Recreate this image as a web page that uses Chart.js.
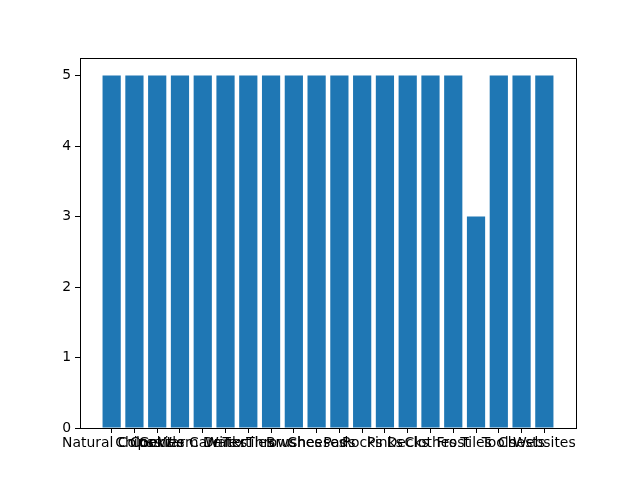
<!DOCTYPE html>
<html>
<head>
<meta charset="utf-8">
<script src="https://cdn.jsdelivr.net/npm/chart.js@4/dist/chart.umd.min.js"></script>
<style>
  html, body { margin: 0; padding: 0; background: #fff; }
  #wrap { width: 640px; height: 480px; }
</style>
</head>
<body>
<div id="wrap"><canvas id="chart" width="640" height="480"></canvas></div>
<script>
/* data (labels overlap, best guesses) */
const categories = [
    "Natural Colors", "Chips", "Cookies", "Gentle Care", "Warm Drinks",
    "Water", "Textiles", "Throws", "Brushes", "Cheeses",
    "Pads", "Rocks", "Pinks", "Decks", "Clothes",
    "Frost", "Tiles", "Tools", "Chests", "Websites"
];
const values = [5, 5, 5, 5, 5, 5, 5, 5, 5, 5, 5, 5, 5, 5, 5, 5, 3, 5, 5, 5];
const yTicks = [0, 1, 2, 3, 4, 5];

const font = { family: "DejaVu Sans", size: 13.9 };

new Chart(document.getElementById("chart"), {
    type: "bar",
    data: {
        datasets: [{
            data: values.map((v, i) => ({ x: i, y: v })),
            backgroundColor: "#1f77b4",
            borderWidth: 0,
            categoryPercentage: 1,
            barPercentage: 0.8
        }]
    },
    options: {
        responsive: false,
        animation: false,
        layout: { padding: { top: 58, right: 64, left: 0, bottom: 0 } },
        plugins: { legend: { display: false }, tooltip: { enabled: false } },
        scales: {
            x: {
                type: "linear",
                offset: false,
                min: -1.39,
                max: 20.39,
                afterBuildTicks: axis => {
                    axis.ticks = categories.map((c, i) => ({ value: i }));
                },
                afterFit: axis => { axis.height = 52; },
                ticks: {
                    autoSkip: false,
                    maxRotation: 0,
                    minRotation: 0,
                    color: "#000",
                    font,
                    padding: 2,
                    callback: v => categories[v]
                },
                grid: { offset: false, drawOnChartArea: false, tickLength: 5, tickColor: "#000", tickWidth: 1 },
                border: { color: "#000", width: 1 }
            },
            y: {
                min: 0,
                max: 5.25,
                afterBuildTicks: axis => {
                    axis.ticks = yTicks.map(v => ({ value: v }));
                },
                afterFit: axis => { axis.width = 80; },
                ticks: { color: "#000", font, padding: 4 },
                grid: { drawOnChartArea: false, tickLength: 5, tickColor: "#000", tickWidth: 1 },
                border: { color: "#000", width: 1 }
            }
        }
    },
    plugins: [{
        id: "frame",
        afterDraw: chart => {
            const { ctx, chartArea: a } = chart;
            ctx.save();
            ctx.strokeStyle = "#000";
            ctx.lineWidth = 1;
            ctx.beginPath();
            ctx.moveTo(a.left, a.top + 0.5);
            ctx.lineTo(a.right + 0.5, a.top + 0.5);
            ctx.lineTo(a.right + 0.5, a.bottom);
            ctx.stroke();
            ctx.restore();
        }
    }]
});
</script>
</body>
</html>
